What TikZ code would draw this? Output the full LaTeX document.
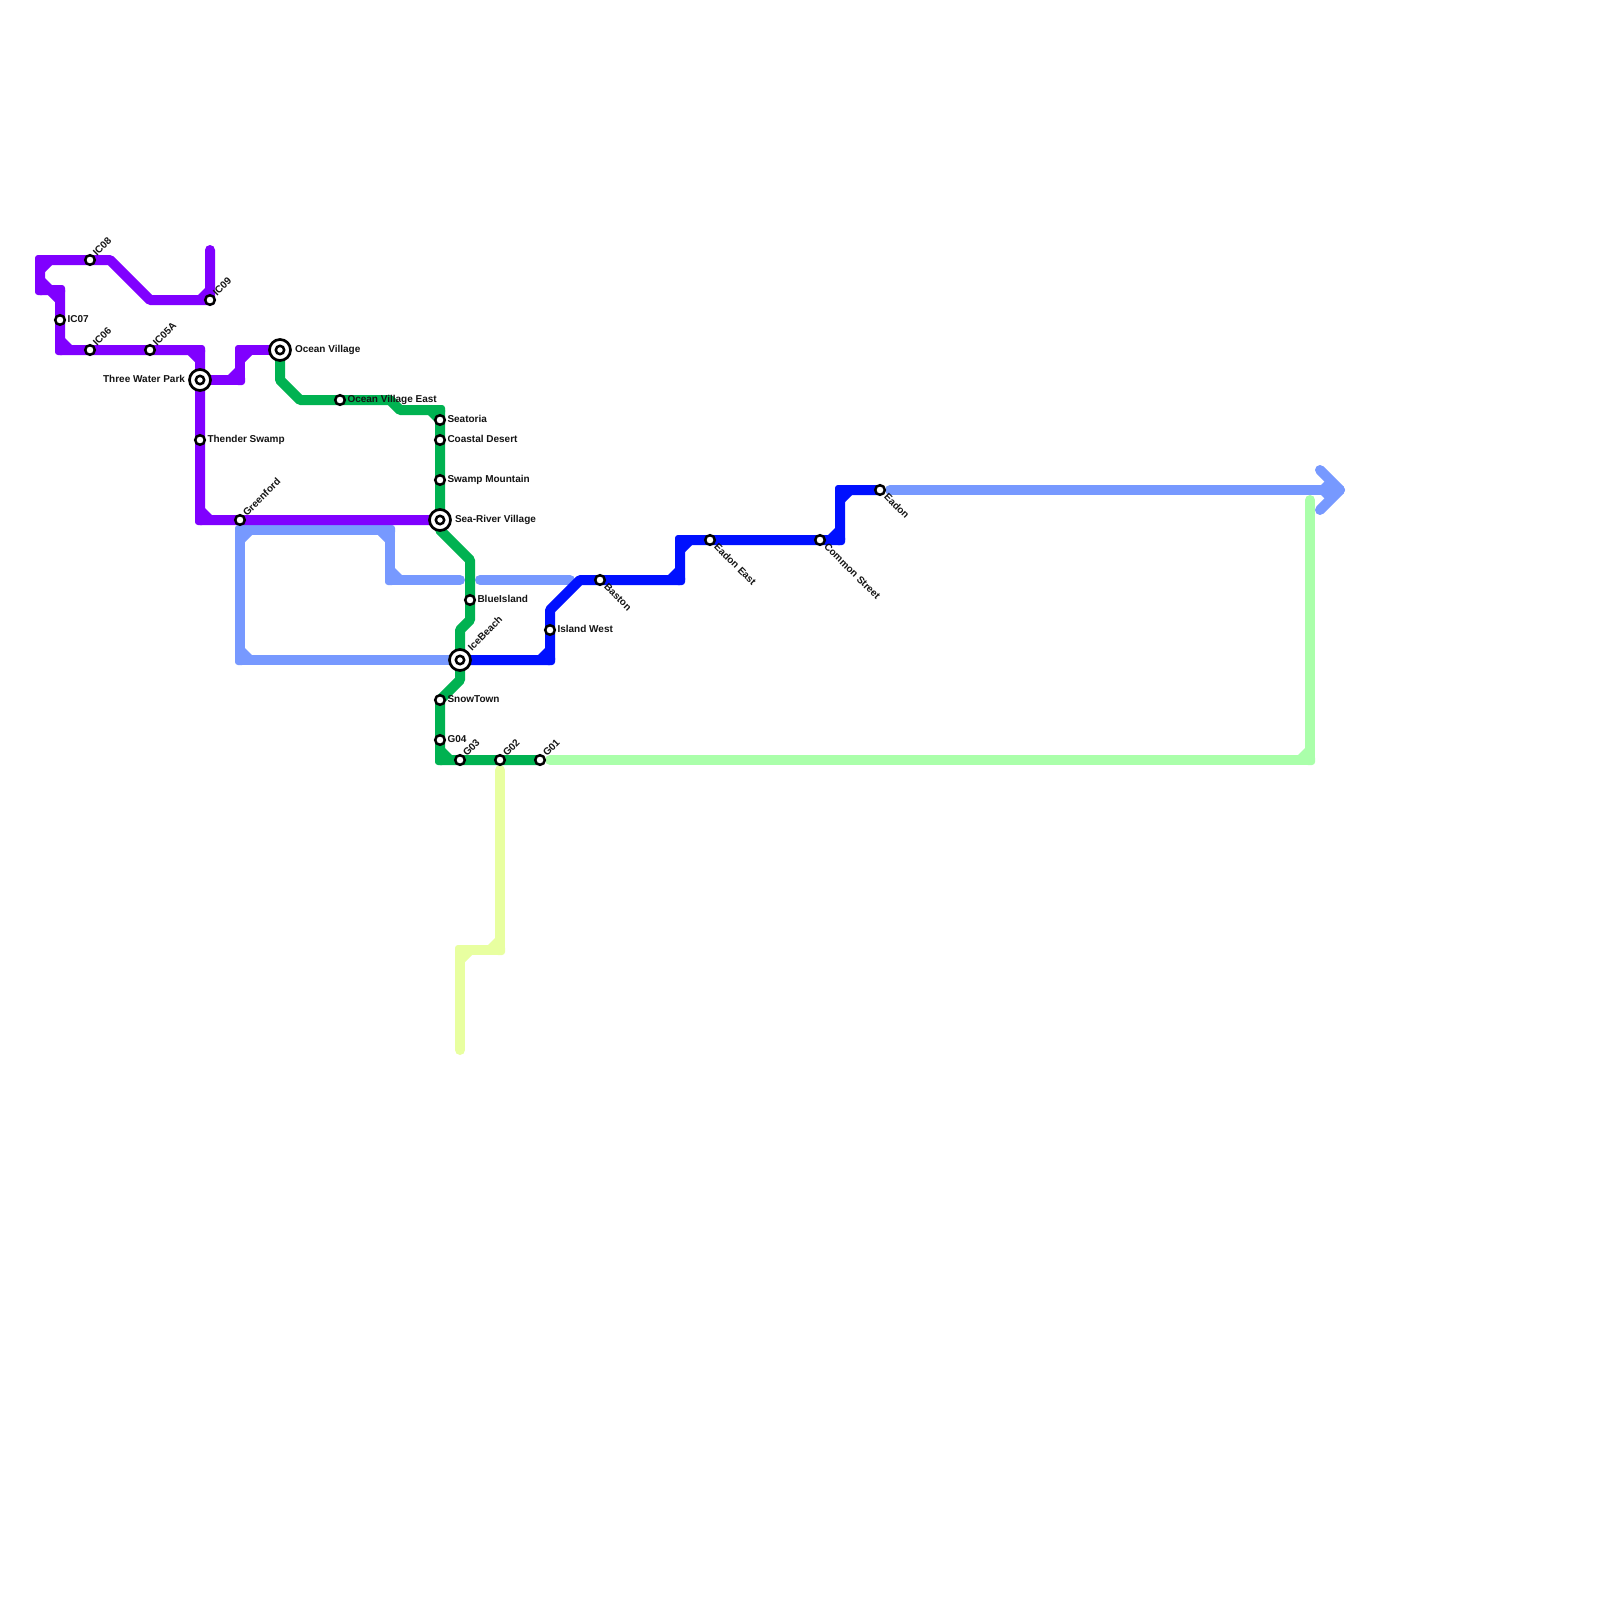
\documentclass[tikz,border=0pt]{standalone}
\usepackage{fontspec}
\setmainfont{Liberation Sans}
\definecolor{cpurple}{HTML}{8000FF}
\definecolor{cgreen}{HTML}{00B251}
\definecolor{clight}{HTML}{7799FF}
\definecolor{cblue}{HTML}{0010FF}
\definecolor{cpale}{HTML}{AAFFAA}
\definecolor{cyell}{HTML}{E8FFA0}
\tikzset{
  metro/.style={line width=10pt,line join=round,line cap=round},
  stn/.style={circle,draw=black,fill=white,line width=2.5pt,minimum size=9.6pt,inner sep=0pt,outer sep=0pt},
  hub/.style={circle,draw=black,fill=white,line width=2.7pt,minimum size=21pt,inner sep=0pt,outer sep=0pt},
  hubcore/.style={circle,draw=black,fill=white,line width=2.5pt,minimum size=8.4pt,inner sep=0pt,outer sep=0pt},
  lab/.style={font=\fontsize{10}{12}\selectfont\bfseries,text=black!92,inner sep=0pt,outer sep=0pt},
  labr/.style={lab,anchor=base west},
  labl/.style={lab,anchor=base east},
  labup/.style={lab,anchor=base west,rotate=45},
  labdn/.style={lab,anchor=base west,rotate=-45},
}
\newcommand{\crn}[4]{%
  \fill[#1,rounded corners=3pt] ([shift={(-5,-5)}]#2) rectangle ([shift={(5,5)}]#2);
  \fill[#1] ([shift={(5*#3,5*#4)}]#2) -- ++(7*#3,0) -- ++(-7*#3,7*#4) -- cycle;
}
\begin{document}
\begin{tikzpicture}[x=1pt,y=-1pt]
\useasboundingbox (0,0) rectangle (1600,1600);
\fill[white] (0,0) rectangle (1600,1600);
% stations positions
\coordinate (ic09) at (210,300);
\coordinate (ic08) at (90,260);
\coordinate (ic07) at (60,320);
\coordinate (ic06) at (90,350);
\coordinate (ic05a) at (150,350);
\coordinate (twp) at (200,380);
\coordinate (then) at (200,440);
\coordinate (green) at (240,520);
\coordinate (srv) at (440,520);
\coordinate (ocv) at (280,350);
\coordinate (ove) at (340,400);
\coordinate (seat) at (440,420);
\coordinate (coast) at (440,440);
\coordinate (swamp) at (440,480);
\coordinate (bluei) at (470,600);
\coordinate (ice) at (460,660);
\coordinate (snow) at (440,700);
\coordinate (gfour) at (440,740);
\coordinate (gthree) at (460,760);
\coordinate (gtwo) at (500,760);
\coordinate (gone) at (540,760);
\coordinate (isl) at (550,630);
\coordinate (bast) at (600,580);
\coordinate (eade) at (710,540);
\coordinate (comm) at (820,540);
\coordinate (eadon) at (880,490);
% waypoints
\coordinate (p1) at (210,250);
\coordinate (p2) at (150,300);
\coordinate (p3) at (110,260);
\coordinate (p4) at (40,260);
\coordinate (p5) at (40,290);
\coordinate (p6) at (60,290);
\coordinate (p7) at (60,350);
\coordinate (p8) at (200,350);
\coordinate (p9) at (200,520);
\coordinate (p10) at (240,380);
\coordinate (p11) at (240,350);
\coordinate (g1) at (280,380);
\coordinate (g2) at (300,400);
\coordinate (g3) at (390,400);
\coordinate (g4) at (400,410);
\coordinate (g5) at (440,410);
\coordinate (g5b) at (440,530);
\coordinate (g6) at (470,560);
\coordinate (g7) at (470,620);
\coordinate (g8) at (460,630);
\coordinate (g9) at (460,680);
\coordinate (g10) at (440,760);
\coordinate (l1) at (240,660);
\coordinate (l2) at (240,530);
\coordinate (l3) at (390,530);
\coordinate (l4) at (390,580);
\coordinate (l5) at (460,580);
\coordinate (l6) at (480,580);
\coordinate (l7) at (570,580);
\coordinate (l8) at (890,490);
\coordinate (l9) at (1340,490);
\coordinate (a1) at (1320,470);
\coordinate (a2) at (1320,510);
\coordinate (b1) at (550,660);
\coordinate (b2) at (550,610);
\coordinate (b3) at (580,580);
\coordinate (b4) at (680,580);
\coordinate (b5) at (680,540);
\coordinate (b6) at (840,540);
\coordinate (b7) at (840,490);
\coordinate (v1) at (550,760);
\coordinate (v2) at (1310,760);
\coordinate (v3) at (1310,500);
\coordinate (y1) at (500,770);
\coordinate (y2) at (500,950);
\coordinate (y3) at (460,950);
\coordinate (y4) at (460,1050);
% pale yellow
\draw[metro,cyell] (y1) -- (y2) -- (y3) -- (y4);
\crn{cyell}{y2}{-1}{-1}
\crn{cyell}{y3}{1}{1}
% pale green
\draw[metro,cpale] (v1) -- (v2) -- (v3);
\crn{cpale}{v2}{-1}{-1}
% light blue
\draw[metro,clight] (ice) -- (l1) -- (l2) -- (l3) -- (l4) -- (l5);
\crn{clight}{l1}{1}{-1}
\crn{clight}{l2}{1}{1}
\crn{clight}{l3}{-1}{1}
\crn{clight}{l4}{1}{-1}
\draw[metro,clight] (l6) -- (l7);
\draw[metro,clight] (l8) -- (l9);
\draw[metro,clight] (a1) -- (l9) -- (a2);
\fill[clight] (1321,485) -- (1329,485) -- (1325,481) -- cycle;
\fill[clight] (1321,495) -- (1329,495) -- (1325,499) -- cycle;
% blue
\draw[metro,cblue] (ice) -- (b1) -- (b2) -- (b3) -- (b4) -- (b5) -- (b6) -- (b7) -- (eadon);
\crn{cblue}{b1}{-1}{-1}
\crn{cblue}{b4}{-1}{-1}
\crn{cblue}{b5}{1}{1}
\crn{cblue}{b6}{-1}{-1}
\crn{cblue}{b7}{1}{1}
% green
\draw[metro,cgreen] (ocv) -- (g1) -- (g2) -- (g3) -- (g4) -- (g5) -- (srv) -- (g5b) -- (g6) -- (g7) -- (g8) -- (g9) -- (snow) -- (g10) -- (gone);
\crn{cgreen}{g5}{-1}{1}
\crn{cgreen}{g10}{1}{-1}
% purple
\draw[metro,cpurple] (p1) -- (ic09) -- (p2) -- (p3) -- (p4) -- (p5) -- (p6) -- (p7) -- (p8) -- (p9) -- (srv);
\draw[metro,cpurple] (twp) -- (p10) -- (p11) -- (ocv);
\crn{cpurple}{ic09}{-1}{-1}
\crn{cpurple}{p4}{1}{1}
\crn{cpurple}{p5}{1}{-1}
\crn{cpurple}{p6}{-1}{1}
\crn{cpurple}{p7}{1}{-1}
\crn{cpurple}{p8}{-1}{1}
\crn{cpurple}{p9}{1}{-1}
\crn{cpurple}{p10}{-1}{-1}
\crn{cpurple}{p11}{1}{1}
% stations
\foreach \s in {ic09,ic08,ic07,ic06,ic05a,then,green,ove,seat,coast,swamp,bluei,snow,gfour,gthree,gtwo,gone,isl,bast,eade,comm,eadon}{\node[stn] (n\s) at (\s) {};}
\foreach \s in {twp,srv,ocv,ice}{\node[hub] (n\s) at (\s) {};\node[hubcore] (c\s) at (\s) {};}
% labels
\node[labup] (tic08) at ([shift={(7,-3.5)}]ic08) {IC08};
\node[labup] (tic09) at ([shift={(7,-3.5)}]ic09) {IC09};
\node[labup] (tic06) at ([shift={(7,-3.5)}]ic06) {IC06};
\node[labup] (tic05a) at ([shift={(7,-3.5)}]ic05a) {IC05A};
\node[labup] (tgreen) at ([shift={(7,-3.5)}]green) {Greenford};
\node[labup] (tice) at ([shift={(12,-8.5)}]ice) {IceBeach};
\node[labup] (tg3) at ([shift={(7,-3.5)}]gthree) {G03};
\node[labup] (tg2) at ([shift={(7,-3.5)}]gtwo) {G02};
\node[labup] (tg1) at ([shift={(7,-3.5)}]gone) {G01};
\node[labr] (tic07) at ([shift={(7.5,2.3)}]ic07) {IC07};
\node[labr] (tthen) at ([shift={(7.5,2.3)}]then) {Thender Swamp};
\node[labl] (ttwp) at ([shift={(-15,2.3)}]twp) {Three Water Park};
\node[labr] (tocv) at ([shift={(15,2.3)}]ocv) {Ocean Village};
\node[labr] (tove) at ([shift={(7.5,2.3)}]ove) {Ocean Village East};
\node[labr] (tseat) at ([shift={(7.5,2.3)}]seat) {Seatoria};
\node[labr] (tcoast) at ([shift={(7.5,2.3)}]coast) {Coastal Desert};
\node[labr] (tswamp) at ([shift={(7.5,2.3)}]swamp) {Swamp Mountain};
\node[labr] (tsrv) at ([shift={(15,2.3)}]srv) {Sea-River Village};
\node[labr] (tblue) at ([shift={(7.5,2.3)}]bluei) {BlueIsland};
\node[labr] (tsnow) at ([shift={(7.5,2.3)}]snow) {SnowTown};
\node[labr] (tg4) at ([shift={(7.5,2.3)}]gfour) {G04};
\node[labr] (tisl) at ([shift={(7.5,2.3)}]isl) {Island West};
\node[labdn] (tbast) at ([shift={(3.5,7.5)}]bast) {Baston};
\node[labdn] (teade) at ([shift={(3.5,7.5)}]eade) {Eadon East};
\node[labdn] (tcomm) at ([shift={(3.5,7.5)}]comm) {Common Street};
\node[labdn] (teadon) at ([shift={(3.5,7.5)}]eadon) {Eadon};
\end{tikzpicture}
\end{document}
